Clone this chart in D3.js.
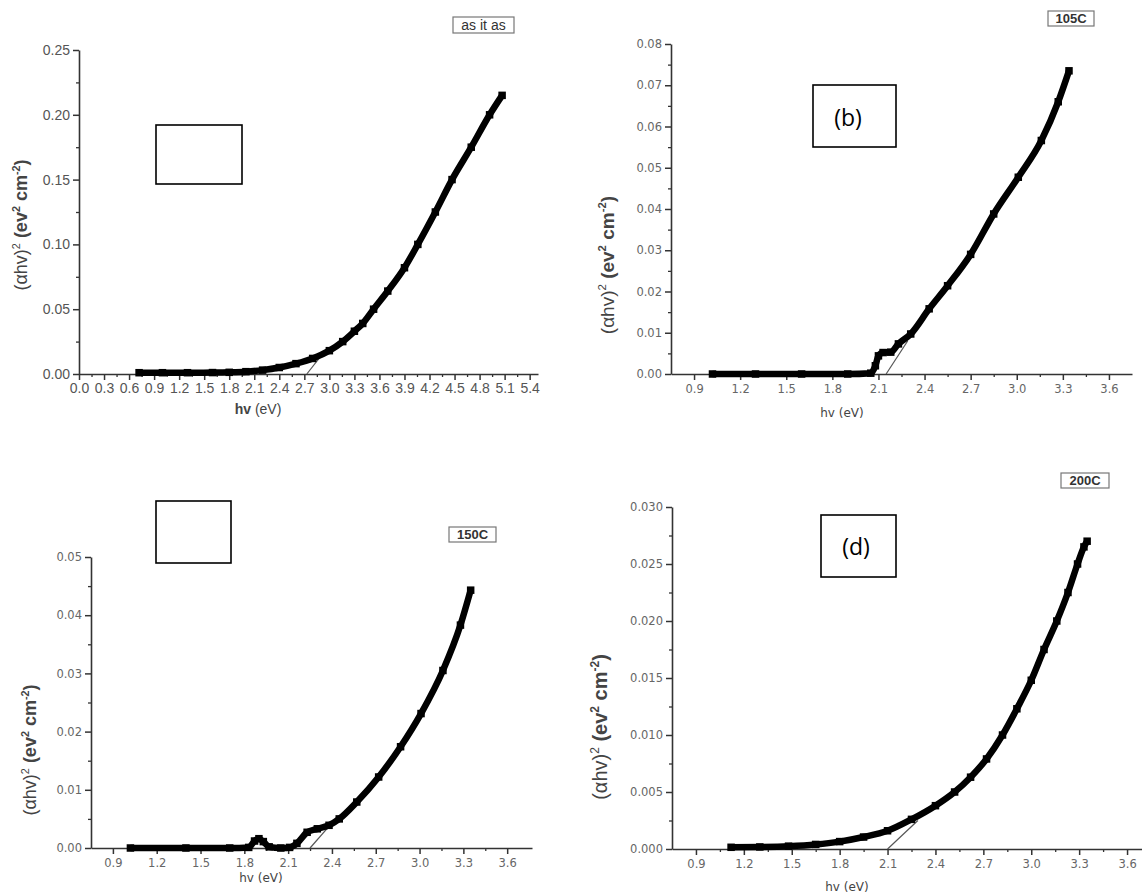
<!DOCTYPE html>
<html><head><meta charset="utf-8">
<script src="https://cdn.jsdelivr.net/npm/d3@7"></script>
<style>body{margin:0;background:#fff} svg{display:block}</style>
</head><body>
<svg id="chart" width="1142" height="894"></svg>
<script>
// ---------- DATA ----------
const hvA = [0.72,1.00,1.30,1.60,1.80,2.00,2.20,2.40,2.60,2.80,3.00,3.16,3.30,3.40,3.53,3.70,3.90,4.06,4.27,4.47,4.70,4.92,5.07];
const yA  = [0.0010,0.0010,0.0010,0.0011,0.0013,0.0018,0.0030,0.0050,0.0080,0.0120,0.0180,0.0250,0.0330,0.0390,0.0500,0.0640,0.0820,0.1000,0.1250,0.1500,0.1750,0.2000,0.2150];
const fitA_hv = [2.73,2.90];
const fitA_y  = [0,0.014];

const hvB = [1.02,1.30,1.60,1.90,2.05,2.08,2.10,2.13,2.18,2.23,2.31,2.43,2.55,2.70,2.85,3.01,3.16,3.27,3.34];
const yB  = [0,0,0,0,0.0002,0.0020,0.0044,0.0052,0.0053,0.0073,0.0097,0.0158,0.0214,0.0290,0.0388,0.0477,0.0566,0.0660,0.0735];
const fitB_hv = [2.15,2.29];
const fitB_y  = [0,0.008];

const hvC = [1.02,1.40,1.70,1.83,1.87,1.90,1.93,1.97,2.05,2.11,2.16,2.23,2.30,2.38,2.45,2.57,2.72,2.87,3.01,3.16,3.28,3.35];
const yC  = [0,0,0,0.0001,0.0012,0.0016,0.0011,0.0002,0,0.0001,0.0008,0.0027,0.0033,0.0039,0.0050,0.0079,0.0122,0.0174,0.0231,0.0305,0.0383,0.0443];
const fitC_hv = [2.25,2.38];
const fitC_y  = [0,0.0037];

const hvD = [1.12,1.30,1.48,1.65,1.80,1.95,2.10,2.25,2.40,2.52,2.62,2.72,2.82,2.91,3.00,3.08,3.16,3.23,3.29,3.33,3.35];
const yD  = [0.00015,0.00018,0.00025,0.0004,0.00065,0.00105,0.0016,0.0026,0.0038,0.0050,0.0063,0.0079,0.0100,0.0123,0.0148,0.0175,0.0200,0.0225,0.0250,0.0265,0.0270];
const fitD_hv = [2.10,2.29];
const fitD_y  = [0,0.0025];

const xTicksA = [0.0,0.3,0.6,0.9,1.2,1.5,1.8,2.1,2.4,2.7,3.0,3.3,3.6,3.9,4.2,4.5,4.8,5.1,5.4];
const xMinorA = [0.15,0.45,0.75,1.05,1.35,1.65,1.95,2.25,2.55,2.85,3.15,3.45,3.75,4.05,4.35,4.65,4.95,5.25];
const yTicksA = [0.00,0.05,0.10,0.15,0.20,0.25];
const yMinorA = [0.025,0.075,0.125,0.175,0.225];

const xTicksBCD = [0.9,1.2,1.5,1.8,2.1,2.4,2.7,3.0,3.3,3.6];
const xMinorBCD = [1.05,1.35,1.65,1.95,2.25,2.55,2.85,3.15,3.45];
const yTicksB = [0.00,0.01,0.02,0.03,0.04,0.05,0.06,0.07,0.08];
const yMinorB = [0.005,0.015,0.025,0.035,0.045,0.055,0.065,0.075];
const yTicksC = [0.00,0.01,0.02,0.03,0.04,0.05];
const yMinorC = [0.005,0.015,0.025,0.035,0.045];
const yTicksD = [0.000,0.005,0.010,0.015,0.020,0.025,0.030];
const yMinorD = [0.0025,0.0075,0.0125,0.0175,0.0225,0.0275];

const sampleNames = ["as it as","105C","150C","200C"];
const panelLetters = ["","(b)","","(d)"];
const xTitle = "hv (eV)";

// ---------- DRAWING ----------
const svg = d3.select("#chart");

function drawPanel(c) {
  const g = svg.append("g");
  const x = d3.scaleLinear().domain(c.xd).range(c.xr);
  const y = d3.scaleLinear().domain(c.yd).range(c.yr);
  const axCol = "#333";

  g.append("g").attr("transform", `translate(0,${c.yr[0]})`)
    .call(d3.axisBottom(x).tickValues(c.xMinor).tickSize(3).tickSizeOuter(0).tickFormat(""))
    .call(s => { s.select(".domain").remove(); s.selectAll("line").attr("stroke", axCol).attr("stroke-width", 1.3); });
  g.append("g").attr("transform", `translate(0,${c.yr[0]})`)
    .call(d3.axisBottom(x).tickValues(c.xTicks).tickSize(6).tickSizeOuter(0).tickPadding(c.tpad).tickFormat(d3.format(".1f")))
    .call(s => {
      s.select(".domain").attr("stroke", axCol).attr("stroke-width", 1.6);
      s.selectAll("line").attr("stroke", axCol).attr("stroke-width", 1.5);
      s.selectAll("text").attr("fill", c.tcol).attr("font-family", c.tfont).attr("font-size", c.tsize);
    });
  g.append("g").attr("transform", `translate(${c.xr[0]},0)`)
    .call(d3.axisLeft(y).tickValues(c.yMinor).tickSize(3).tickSizeOuter(0).tickFormat(""))
    .call(s => { s.select(".domain").remove(); s.selectAll("line").attr("stroke", axCol).attr("stroke-width", 1.3); });
  g.append("g").attr("transform", `translate(${c.xr[0]},0)`)
    .call(d3.axisLeft(y).tickValues(c.yTicks).tickSize(6).tickSizeOuter(0).tickPadding(3).tickFormat(d3.format(c.yfmt)))
    .call(s => {
      s.select(".domain").attr("stroke", axCol).attr("stroke-width", 1.6);
      s.selectAll("line").attr("stroke", axCol).attr("stroke-width", 1.5);
      s.selectAll("text").attr("fill", c.tcol).attr("font-family", c.tfont).attr("font-size", c.tsize);
    });

  g.append("line")
    .attr("x1", x(c.fitHv[0])).attr("y1", y(c.fitY[0]))
    .attr("x2", x(c.fitHv[1])).attr("y2", y(c.fitY[1]))
    .attr("stroke", "#555").attr("stroke-width", 1.2);

  const pts = c.hv.map((v, i) => [v, c.y[i]]);
  g.append("path").datum(pts)
    .attr("d", d3.line().x(d => x(d[0])).y(d => y(d[1])).curve(d3.curveMonotoneX))
    .attr("fill", "none").attr("stroke", "#000").attr("stroke-width", c.lw);
  const ms = c.ms;
  g.selectAll("rect.m").data(pts).join("rect").attr("class", "m")
    .attr("x", d => x(d[0]) - ms / 2).attr("y", d => y(d[1]) - ms / 2)
    .attr("width", ms).attr("height", ms).attr("fill", "#000");

  const xt = g.append("text").attr("x", c.xtPos[0]).attr("y", c.xtPos[1])
    .attr("text-anchor", "middle").attr("font-family", c.tfont).attr("font-size", c.xtSize).attr("fill", "#444");
  xt.append("tspan").attr("font-weight", c.xtBold ? "bold" : "normal").text(xTitle.split(" ")[0]);
  xt.append("tspan").text(" " + xTitle.split(" ")[1]);

  const yt = g.append("text")
    .attr("transform", `translate(${c.ytPos[0]},${c.ytPos[1]}) rotate(-90)`)
    .attr("text-anchor", "middle").attr("font-family", "Liberation Sans, Arial, sans-serif")
    .attr("font-size", c.ytSize).attr("fill", "#444");
  const sup = c.ytSize * 0.4;
  yt.append("tspan").text("(αhv)");
  yt.append("tspan").attr("dy", -sup).attr("font-size", c.ytSize * 0.6).text("2");
  yt.append("tspan").attr("dy", sup).attr("font-weight", "bold").text(" (ev");
  yt.append("tspan").attr("dy", -sup).attr("font-size", c.ytSize * 0.6).attr("font-weight", "bold").text("2");
  yt.append("tspan").attr("dy", sup).attr("font-weight", "bold").text(" cm");
  yt.append("tspan").attr("dy", -sup).attr("font-size", c.ytSize * 0.6).attr("font-weight", "bold").text("-2");
  yt.append("tspan").attr("dy", sup).attr("font-weight", "bold").text(")");

  const nb = c.nameBox;
  g.append("rect").attr("x", nb[0]).attr("y", nb[1]).attr("width", nb[2]).attr("height", nb[3])
    .attr("fill", "#fff").attr("stroke", "#777").attr("stroke-width", 1.2);
  g.append("text").attr("x", nb[0] + nb[2] / 2).attr("y", nb[1] + nb[3] / 2)
    .attr("dy", "0.36em").attr("text-anchor", "middle")
    .attr("font-family", "Liberation Sans, Arial, sans-serif").attr("font-size", c.nameSize)
    .attr("font-weight", c.nameBold ? "bold" : "normal").attr("fill", "#333").text(c.name);

  const lb = c.letterBox;
  g.append("rect").attr("x", lb[0]).attr("y", lb[1]).attr("width", lb[2]).attr("height", lb[3])
    .attr("fill", "none").attr("stroke", "#000").attr("stroke-width", 1.6);
  if (c.letter) {
    g.append("text").attr("x", c.letterPos[0]).attr("y", c.letterPos[1]).attr("dy", "0.35em")
      .attr("text-anchor", "middle").attr("font-family", "Open Sans, Liberation Sans, sans-serif")
      .attr("font-size", 23).attr("fill", "#000").text(c.letter);
  }
}

const fontA = "Liberation Sans, Arial, sans-serif";
const fontB = "DejaVu Sans, Verdana, sans-serif";

drawPanel({
  hv: hvA, y: yA, fitHv: fitA_hv, fitY: fitA_y,
  xd: [0, 5.5], xr: [79, 538], yd: [0, 0.25], yr: [374, 50],
  xTicks: xTicksA, xMinor: xMinorA, yTicks: yTicksA, yMinor: yMinorA, yfmt: ".2f",
  tfont: fontA, tsize: 14, tcol: "#555", tpad: 3,
  xtPos: [258, 414], xtSize: 14, xtBold: true,
  ytPos: [27, 225], ytSize: 18,
  name: sampleNames[0], nameBox: [453, 17, 61, 16], nameSize: 14, nameBold: false,
  letter: panelLetters[0], letterBox: [156, 125, 86, 59],
  lw: 6.5, ms: 7.5
});
drawPanel({
  hv: hvB, y: yB, fitHv: fitB_hv, fitY: fitB_y,
  xd: [0.75, 3.75], xr: [671, 1132], yd: [0, 0.08], yr: [374, 44],
  xTicks: xTicksBCD, xMinor: xMinorBCD, yTicks: yTicksB, yMinor: yMinorB, yfmt: ".2f",
  tfont: fontB, tsize: 11.5, tcol: "#666", tpad: 5,
  xtPos: [842, 417], xtSize: 12, xtBold: false,
  ytPos: [614, 265], ytSize: 19,
  name: sampleNames[1], nameBox: [1048, 11, 46, 15], nameSize: 13, nameBold: true,
  letter: panelLetters[1], letterBox: [813, 85, 83, 62], letterPos: [848, 118],
  lw: 6.5, ms: 7.5
});
drawPanel({
  hv: hvC, y: yC, fitHv: fitC_hv, fitY: fitC_y,
  xd: [0.75, 3.77], xr: [91, 532], yd: [0, 0.05], yr: [848, 557],
  xTicks: xTicksBCD, xMinor: xMinorBCD, yTicks: yTicksC, yMinor: yMinorC, yfmt: ".2f",
  tfont: fontB, tsize: 11.5, tcol: "#666", tpad: 5,
  xtPos: [261, 882], xtSize: 12, xtBold: false,
  ytPos: [36, 750], ytSize: 18,
  name: sampleNames[2], nameBox: [449, 527, 47, 15], nameSize: 13, nameBold: true,
  letter: panelLetters[2], letterBox: [156, 501, 75, 62],
  lw: 6.5, ms: 7.5
});
drawPanel({
  hv: hvD, y: yD, fitHv: fitD_hv, fitY: fitD_y,
  xd: [0.75, 3.75], xr: [672, 1151], yd: [0, 0.03], yr: [849, 507],
  xTicks: xTicksBCD, xMinor: xMinorBCD, yTicks: yTicksD, yMinor: yMinorD, yfmt: ".3f",
  tfont: fontB, tsize: 11.5, tcol: "#666", tpad: 5,
  xtPos: [847, 891], xtSize: 12, xtBold: false,
  ytPos: [607, 727], ytSize: 20,
  name: sampleNames[3], nameBox: [1061, 473, 48, 15], nameSize: 13, nameBold: true,
  letter: panelLetters[3], letterBox: [821, 515, 75, 62], letterPos: [856, 547],
  lw: 6.5, ms: 7.5
});
</script>
</body></html>
